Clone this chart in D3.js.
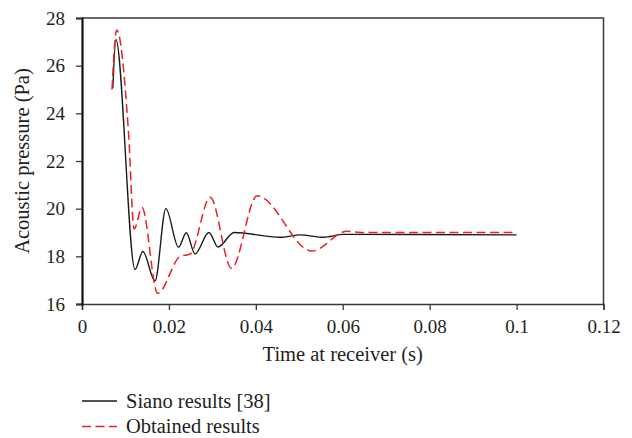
<!DOCTYPE html>
<html>
<head>
<meta charset="utf-8">
<script src="https://cdnjs.cloudflare.com/ajax/libs/d3/7.8.5/d3.min.js"></script>
<style>
  body { margin: 0; background: #fff; }
  text { font-family: "Liberation Serif", "DejaVu Serif", serif; fill: #231f20; }
</style>
</head>
<body>
<div class="container"></div>
<script>
var width = 632;
var height = 438;
var margin = {top: 18, right: 28.5, bottom: 134, left: 82};

// Siano results [38]
var sianoTime = [0.0071, 0.0078, 0.0122, 0.0140, 0.0168, 0.0193, 0.0222, 0.0240, 0.0260, 0.0292, 0.0313, 0.0350, 0.0456, 0.0502, 0.0556, 0.0602, 0.1000];
var sianoPressure = [25.05, 27.1, 17.45, 18.2, 16.97, 20.0, 18.38, 18.99, 18.1, 19.0, 18.39, 19.0, 18.8, 18.9, 18.8, 18.92, 18.9];

// Obtained results
var obtTime = [0.0069, 0.0080, 0.0107, 0.0120, 0.0138, 0.0174, 0.0226, 0.0249, 0.0295, 0.0344, 0.0403, 0.0529, 0.0610, 0.0640, 0.1000];
var obtPressure = [25.0, 27.5, 23.2, 19.15, 20.05, 16.45, 18.0, 18.1, 20.48, 17.5, 20.54, 18.22, 19.05, 19.0, 19.0];

var xTicks = [0, 0.02, 0.04, 0.06, 0.08, 0.1, 0.12];
var yTicks = [16, 18, 20, 22, 24, 26, 28];
var legendNames = ["Siano results [38]", "Obtained results"];

//-----------------------------------------
// 1. SVG
var svg = d3.select(".container")
  .append("svg")
  .attr("width", width)
  .attr("height", height);

//-----------------------------------------
// 2. SCALE & AXIS
var xScale = d3.scaleLinear()
  .domain([0, 0.12])
  .range([margin.left, width - margin.right]);
var yScale = d3.scaleLinear()
  .domain([16, 28])
  .range([height - margin.bottom, margin.top]);

// box: top and right edges
svg.append("path")
  .attr("d", "M" + xScale(0) + "," + yScale(28) + "H" + xScale(0.12) + "V" + yScale(16))
  .attr("fill", "none")
  .attr("stroke", "#3a3a3a")
  .attr("stroke-width", 1.5);

var xAxis = d3.axisBottom(xScale)
  .tickValues(xTicks)
  .tickSize(6)
  .tickPadding(9.5)
  .tickFormat((d) => String(+d.toFixed(2)));
var yAxis = d3.axisLeft(yScale)
  .tickValues(yTicks)
  .tickSize(6)
  .tickPadding(11)
  .tickFormat(d3.format("d"));

var gx = svg.append("g")
  .attr("transform", "translate(0," + yScale(16) + ")")
  .call(xAxis);
gx.select(".domain").attr("stroke", "#3a3a3a").attr("stroke-width", 1.5);
gx.selectAll(".tick line").attr("stroke", "#3a3a3a").attr("stroke-width", 1.3);
gx.selectAll("text").attr("font-size", 19).attr("font-family", null);

var gy = svg.append("g")
  .attr("transform", "translate(" + xScale(0) + ",0)")
  .call(yAxis);
gy.select(".domain").attr("stroke", "#111").attr("stroke-width", 2.2);
gy.selectAll(".tick line").attr("stroke", "#3a3a3a").attr("stroke-width", 1.3);
gy.selectAll("text").attr("font-size", 19).attr("font-family", null);

svg.append("text")
  .attr("x", (xScale(0) + xScale(0.12)) / 2)
  .attr("y", 361)
  .attr("text-anchor", "middle")
  .attr("font-size", 20.5)
  .text("Time at receiver (s)");

svg.append("text")
  .attr("transform", "translate(22," + (yScale(16) + yScale(28)) / 2 + ") rotate(-90)")
  .attr("text-anchor", "middle")
  .attr("dy", "0.35em")
  .attr("font-size", 20.5)
  .text("Acoustic pressure (Pa)");

//-----------------------------------------
// 3. LINES
var line = d3.line()
  .x((d) => xScale(d[0]))
  .y((d) => yScale(d[1]))
  .curve(d3.curveMonotoneX);

var siano = sianoTime.map((t, i) => [t, sianoPressure[i]]);
var obtained = obtTime.map((t, i) => [t, obtPressure[i]]);

svg.append("path")
  .datum(siano)
  .attr("d", line)
  .attr("fill", "none")
  .attr("stroke", "#1a1a1a")
  .attr("stroke-width", 1.4);

svg.append("path")
  .datum(obtained)
  .attr("d", line)
  .attr("fill", "none")
  .attr("stroke", "#e8202a")
  .attr("stroke-width", 1.5)
  .attr("stroke-dasharray", "9,4.5");

//-----------------------------------------
// 4. LEGEND
var legend = svg.selectAll(".legend")
  .data(legendNames)
  .enter()
  .append("g")
  .attr("class", "legend")
  .attr("transform", (d, i) => "translate(82," + (401 + i * 25.5) + ")");

legend.append("line")
  .attr("x1", 0)
  .attr("x2", 35)
  .attr("stroke", (d, i) => i == 0 ? "#1a1a1a" : "#e8202a")
  .attr("stroke-width", (d, i) => i == 0 ? 1.4 : 1.5)
  .attr("stroke-dasharray", (d, i) => i == 0 ? null : "9,4.5");

legend.append("text")
  .attr("x", 44)
  .attr("dy", "0.33em")
  .attr("font-size", 20.5)
  .text((d) => d);
</script>
</body>
</html>
